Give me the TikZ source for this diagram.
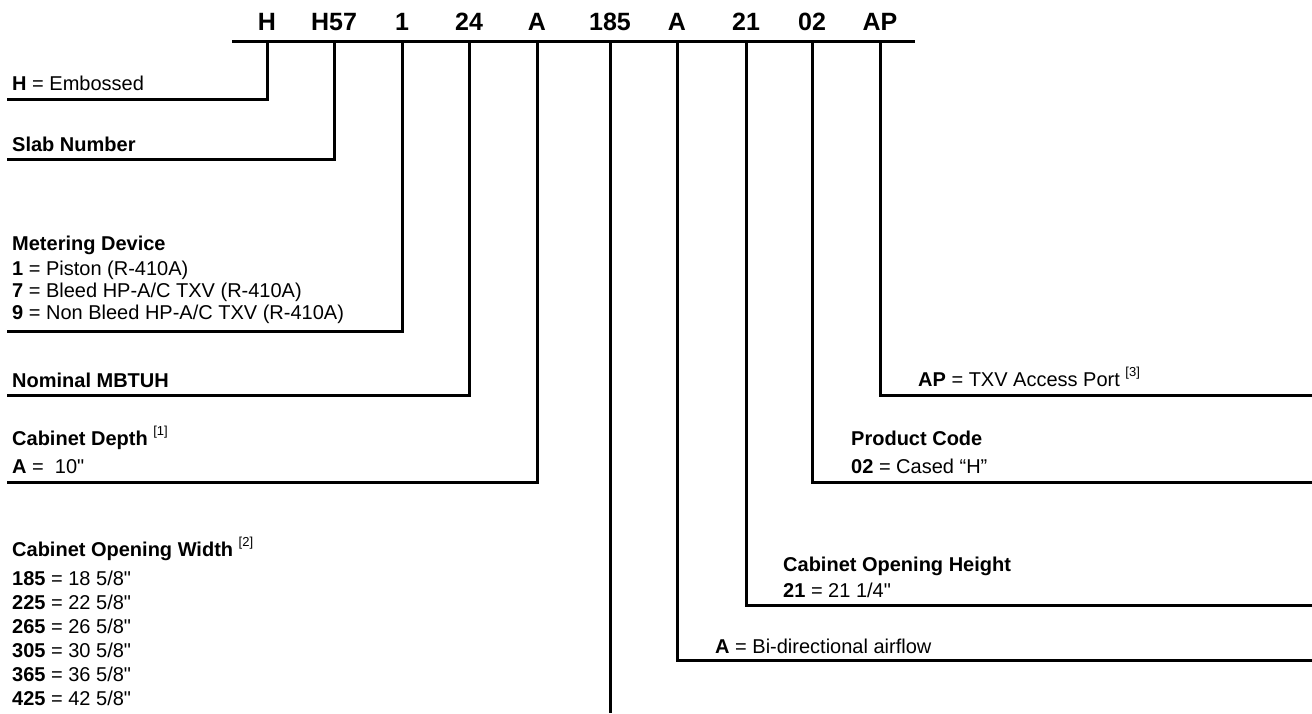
\documentclass[tikz,border=0pt]{standalone}
\usepackage{fontspec}
\setmainfont{Liberation Sans}
\newfontfamily\qfont{Liberation Sans}
\newcommand{\inch}{{\qfont"}}
\newcommand{\fnref}[1]{\raisebox{0.5em}{\mdseries\fontsize{13}{13}\selectfont[#1]}}
\begin{document}
\begin{tikzpicture}[x=1pt,y=-1pt,
  conn/.style={line width=3pt, line join=miter, line cap=butt},
  hdr/.style={font=\fontsize{25}{30}\selectfont\bfseries, anchor=base, inner sep=0pt},
  desc/.style={font=\fontsize{20}{24}\selectfont, anchor=base west, inner sep=0pt},
  dhead/.style={desc, font=\fontsize{20}{24}\selectfont\bfseries}]
\useasboundingbox (0,0) rectangle (1312,713);
% header labels
\node[hdr] (lH)   at (267,30) {H};
\node[hdr] (lH57) at (334,30) {H57};
\node[hdr] (lM)   at (402,30) {1};
\node[hdr] (lN)   at (469,30) {24};
\node[hdr] (lD)   at (537,30) {A};
\node[hdr] (lW)   at (610,30) {185};
\node[hdr] (lA)   at (677,30) {A};
\node[hdr] (lHt)  at (746,30) {21};
\node[hdr] (lP)   at (812,30) {02};
\node[hdr] (lAP)  at (880,30) {AP};
% top line
\coordinate (topL) at (232,41);
\coordinate (topR) at (915,41);
\draw[conn] (topL) -- (topR);
% tick coordinates
\coordinate (tH)   at (267,41);
\coordinate (tH57) at (334,41);
\coordinate (tM)   at (402,41);
\coordinate (tN)   at (469,41);
\coordinate (tD)   at (537,41);
\coordinate (tW)   at (610,41);
\coordinate (tA)   at (677,41);
\coordinate (tHt)  at (746,41);
\coordinate (tP)   at (812,41);
\coordinate (tAP)  at (880,41);
% end coordinates
\coordinate (eH)   at (7,99);
\coordinate (eH57) at (7,159);
\coordinate (eM)   at (7,331);
\coordinate (eN)   at (7,395);
\coordinate (eD)   at (7,482);
\coordinate (eW)   at (610,713);
\coordinate (eA)   at (1312,660);
\coordinate (eHt)  at (1312,605);
\coordinate (eP)   at (1312,482);
\coordinate (eAP)  at (1312,395);
% connectors
\draw[conn] (tH) |- (eH);
\draw[conn] (tH57) |- (eH57);
\draw[conn] (tM) |- (eM);
\draw[conn] (tN) |- (eN);
\draw[conn] (tD) |- (eD);
\draw[conn] (tW) -- (eW);
\draw[conn] (tA) |- (eA);
\draw[conn] (tHt) |- (eHt);
\draw[conn] (tP) |- (eP);
\draw[conn] (tAP) |- (eAP);
% left descriptions
\node[desc] (dH) at (12,90) {\textbf{H} = Embossed};
\node[dhead] (dSlab) at (12,151) {Slab Number};
\node[dhead] (dMD) at (12,250) {Metering Device};
\node[desc] (dM1) at (12,275) {\textbf{1} = Piston (R-410A)};
\node[desc] (dM7) at (12,297) {\textbf{7} = Bleed HP-A/C TXV (R-410A)};
\node[desc] (dM9) at (12,319) {\textbf{9} = Non Bleed HP-A/C TXV (R-410A)};
\node[dhead] (dNom) at (12,387) {Nominal MBTUH};
\node[dhead] (dCD) at (12,445) {Cabinet Depth \fnref{1}};
\node[desc] (dCDA) at (12,473) {\textbf{A} =\ \ 10\inch};
\node[dhead] (dCOW) at (12,556) {Cabinet Opening Width \fnref{2}};
\node[desc] (w1) at (12,585) {\textbf{185} = 18 5/8\inch};
\node[desc] (w2) at (12,609) {\textbf{225} = 22 5/8\inch};
\node[desc] (w3) at (12,633) {\textbf{265} = 26 5/8\inch};
\node[desc] (w4) at (12,657) {\textbf{305} = 30 5/8\inch};
\node[desc] (w5) at (12,681) {\textbf{365} = 36 5/8\inch};
\node[desc] (w6) at (12,705) {\textbf{425} = 42 5/8\inch};
% right descriptions
\node[desc] (dAP) at (918,386) {\textbf{AP} = TXV Access Port \fnref{3}};
\node[dhead] (dPC) at (851,445) {Product Code};
\node[desc] (dPC2) at (851,473) {\textbf{02} = Cased “H”};
\node[dhead] (dCOH) at (783,571) {Cabinet Opening Height};
\node[desc] (dCOH2) at (783,597) {\textbf{21} = 21 1/4\inch};
\node[desc] (dAir) at (715,653) {\textbf{A} = Bi-directional airflow};
\end{tikzpicture}
\end{document}
